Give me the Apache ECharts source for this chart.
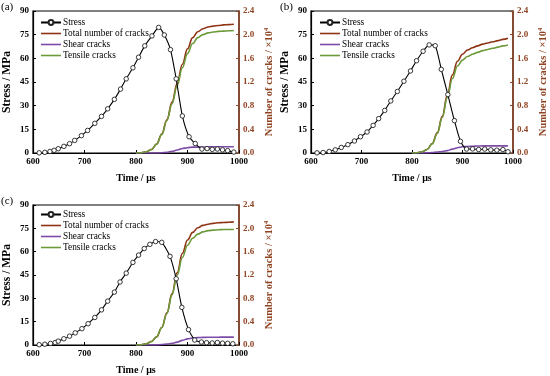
<!DOCTYPE html>
<html><head><meta charset="utf-8">
<script src="https://cdn.jsdelivr.net/npm/echarts@6/dist/echarts.min.js"></script>
<style>html,body{margin:0;padding:0;background:#fff}#c{width:550px;height:376px}</style>
</head><body><div id="c"></div>
<script>
// ---------- data ----------
const panelLabels = ['(a)', '(b)', '(c)'];
const seriesNames = ['Stress', 'Total number of cracks', 'Shear cracks', 'Tensile cracks'];
const xTicks = [600, 700, 800, 900, 1000];

const timesA  = [612,623,633,641,649,660,671,681,694,706,720,733,745,758,770,781,794,805,817,831,844,855,867,878,890,903,915,928,938,948,958,968,978,990];
const stressA = [0.1,0.4,1.0,1.7,2.7,4.2,5.9,8.0,11.0,14.3,18.8,23.2,28.0,34.0,40.5,47.0,54.0,60.7,67.9,74.2,79.6,74.8,65.5,47.0,23.5,10.3,6.0,2.5,2.8,2.3,2.5,2.0,1.5,0.6];

const timesB  = [612,624,636,648,660,673,686,698,711,723,734,746,758,771,784,797,809,822,834,846,858,871,884,896,908,920,932,944,956,968,980,990];
const stressB = [0.1,0.3,1.0,2.0,3.5,5.3,7.6,10.3,13.3,17.5,21.8,27.0,33.0,39.0,45.5,52.0,58.5,64.5,68.5,68.0,53.0,37.0,20.5,7.4,2.5,2.6,2.2,2.5,2.0,1.8,2.2,0.8];

const timesC  = [612,623,634,643,649,660,671,682,695,707,720,733,745,758,769,781,794,805,816,827,838,850,866,878,889,902,914,927,937,948,958,968,978,988];
const stressC = [0.2,0.5,1.0,1.6,2.5,4.0,5.7,7.8,10.5,13.7,17.7,22.6,28.2,34.0,40.5,46.2,53.1,57.8,62.0,64.7,66.5,66.0,57.0,42.6,24.2,9.9,3.2,1.9,1.5,1.3,1.6,1.2,1.1,0.8];

const crackTime = [800,810,820,830,840,850,860,870,880,890,900,910,920,930,940,950,960,970,980,990];
const totalA   = [0,0.005,0.02,0.06,0.15,0.32,0.56,0.86,1.18,1.50,1.76,1.95,2.05,2.10,2.13,2.145,2.155,2.165,2.17,2.175];
const shearA   = [0,0,0,0,0,0.005,0.01,0.03,0.05,0.075,0.09,0.10,0.10,0.102,0.103,0.104,0.105,0.105,0.105,0.105];
const tensileA = [0,0.005,0.02,0.06,0.15,0.31,0.55,0.83,1.14,1.44,1.68,1.85,1.95,2.00,2.03,2.045,2.055,2.06,2.065,2.07];

const totalB   = [0,0.005,0.02,0.06,0.16,0.34,0.62,0.98,1.32,1.55,1.67,1.74,1.78,1.81,1.84,1.86,1.88,1.90,1.92,1.94];
const shearB   = [0,0,0,0.003,0.008,0.015,0.025,0.04,0.065,0.09,0.105,0.11,0.115,0.118,0.12,0.12,0.12,0.12,0.12,0.12];
const tensileB = [0,0.005,0.02,0.06,0.155,0.33,0.60,0.94,1.26,1.47,1.57,1.63,1.67,1.70,1.73,1.75,1.77,1.79,1.81,1.825];

const totalC   = [0,0.005,0.02,0.06,0.14,0.30,0.55,0.88,1.24,1.57,1.80,1.93,2.01,2.05,2.07,2.085,2.095,2.10,2.105,2.11];
const shearC   = [0,0,0,0,0.003,0.008,0.015,0.03,0.05,0.08,0.105,0.12,0.127,0.13,0.132,0.133,0.134,0.135,0.135,0.135];
const tensileC = [0,0.005,0.02,0.06,0.14,0.295,0.54,0.86,1.20,1.50,1.71,1.83,1.90,1.94,1.96,1.97,1.975,1.98,1.98,1.98];

// ---------- build ----------
const FONT = "'Times New Roman','Liberation Serif',serif";
const COL_TOTAL = '#8E3414', COL_SHEAR = '#7E4CA8', COL_TENSILE = '#6C9A3A', COL_RIGHT = '#8F4524';
const LINE_ICON = 'path://M0,0H25V2H0Z';
const gridPos = [
  {left: 32, top: 11, width: 207, height: 142},
  {left: 311, top: 11, width: 203, height: 142},
  {left: 32, top: 205, width: 207, height: 142}
];
const panels = [
  {t: timesA, s: stressA, total: totalA, shear: shearA, tensile: tensileA},
  {t: timesB, s: stressB, total: totalB, shear: shearB, tensile: tensileB},
  {t: timesC, s: stressC, total: totalC, shear: shearC, tensile: tensileC}
];
const zip = (xs, ys) => xs.map((x, i) => [x, ys[i]]);

const option = {
  animation: false,
  backgroundColor: '#fff',
  grid: gridPos.map(g => Object.assign({show: true, borderColor: '#000', borderWidth: 1.2, backgroundColor: 'transparent', containLabel: false}, g)),
  xAxis: gridPos.map((g, i) => ({
    type: 'value', gridIndex: i, min: xTicks[0], max: xTicks[xTicks.length - 1], interval: 100,
    name: 'Time / μs', nameLocation: 'middle', nameGap: 20,
    nameTextStyle: {fontFamily: FONT, fontWeight: 'bold', fontSize: 10, color: '#000'},
    axisLine: {lineStyle: {color: '#000', width: 1.2}},
    axisTick: {inside: true, length: 3, lineStyle: {color: '#000'}},
    axisLabel: {fontFamily: FONT, fontWeight: 'bold', fontSize: 9, color: '#000', margin: 4, formatter: v => String(v)},
    splitLine: {show: false}
  })),
  yAxis: [],
  legend: gridPos.map((g, i) => ({
    left: g.left + 8, top: g.top + (i === 2 ? 5 : 7), orient: 'vertical', padding: 0,
    itemWidth: 20, itemHeight: 6, itemGap: 2,
    textStyle: {fontFamily: FONT, fontSize: 9.3, color: '#000', padding: [0, 0, 0, -3]},
    data: [
      {name: seriesNames[0]},
      {name: seriesNames[1], icon: LINE_ICON},
      {name: seriesNames[2], icon: LINE_ICON},
      {name: seriesNames[3], icon: LINE_ICON}
    ]
  })),
  graphic: gridPos.map((g, i) => ({
    type: 'text', left: g.left - 31, top: g.top - 9,
    style: {text: panelLabels[i], font: '11px ' + FONT, fill: '#000'}
  })),
  series: []
};

gridPos.forEach((g, i) => {
  option.yAxis.push({
    type: 'value', gridIndex: i, position: 'left', min: 0, max: 90, interval: 15,
    name: 'Stress / MPa', nameLocation: 'middle', nameRotate: 90, nameGap: 20,
    nameTextStyle: {fontFamily: FONT, fontWeight: 'bold', fontSize: 11.5, color: '#000'},
    axisLine: {show: true, lineStyle: {color: '#000', width: 1.2}},
    axisTick: {show: true, inside: true, length: 3, lineStyle: {color: '#000'}},
    axisLabel: {fontFamily: FONT, fontWeight: 'bold', fontSize: 9, color: '#000', margin: 4},
    splitLine: {show: false}
  });
  option.yAxis.push({
    type: 'value', gridIndex: i, position: 'right', min: 0, max: 2.4, interval: 0.4,
    name: '{a|Number of cracks / ×10}{s|4}', nameLocation: 'middle', nameRotate: 90, nameGap: 24,
    nameTextStyle: {
      rich: {
        a: {fontFamily: FONT, fontWeight: 'bold', fontSize: 10.5, color: COL_RIGHT},
        s: {fontFamily: FONT, fontWeight: 'bold', fontSize: 6.5, color: COL_RIGHT, padding: [0, 0, 6, 0]}
      }
    },
    axisLine: {show: true, lineStyle: {color: COL_RIGHT, width: 1.5}},
    axisTick: {show: true, inside: true, length: 3, lineStyle: {color: COL_RIGHT}},
    axisLabel: {fontFamily: FONT, fontWeight: 'bold', fontSize: 9, color: COL_RIGHT, margin: 4, formatter: v => v.toFixed(1)},
    splitLine: {show: false}
  });
  const p = panels[i];
  const crackLine = (name, vals, col) => ({
    type: 'line', name, xAxisIndex: i, yAxisIndex: 2 * i + 1,
    data: zip(crackTime, vals), smooth: 0.4, smoothMonotone: 'x',
    symbol: 'none', showSymbol: false,
    lineStyle: {color: col, width: 1.6}, itemStyle: {color: col}
  });
  option.series.push(crackLine(seriesNames[1], p.total, COL_TOTAL));
  option.series.push(crackLine(seriesNames[2], p.shear, COL_SHEAR));
  option.series.push(crackLine(seriesNames[3], p.tensile, COL_TENSILE));
  option.series.push({
    type: 'line', name: seriesNames[0], xAxisIndex: i, yAxisIndex: 2 * i,
    data: zip(p.t, p.s), smooth: 0.2, symbol: 'circle', symbolSize: 4.5, showSymbol: true,
    lineStyle: {color: '#000', width: 1.1},
    itemStyle: {color: '#fff', borderColor: '#222', borderWidth: 0.9}
  });
});

const chart = echarts.init(document.getElementById('c'), null, {renderer: 'canvas'});
chart.setOption(option);
</script>
</body></html>
